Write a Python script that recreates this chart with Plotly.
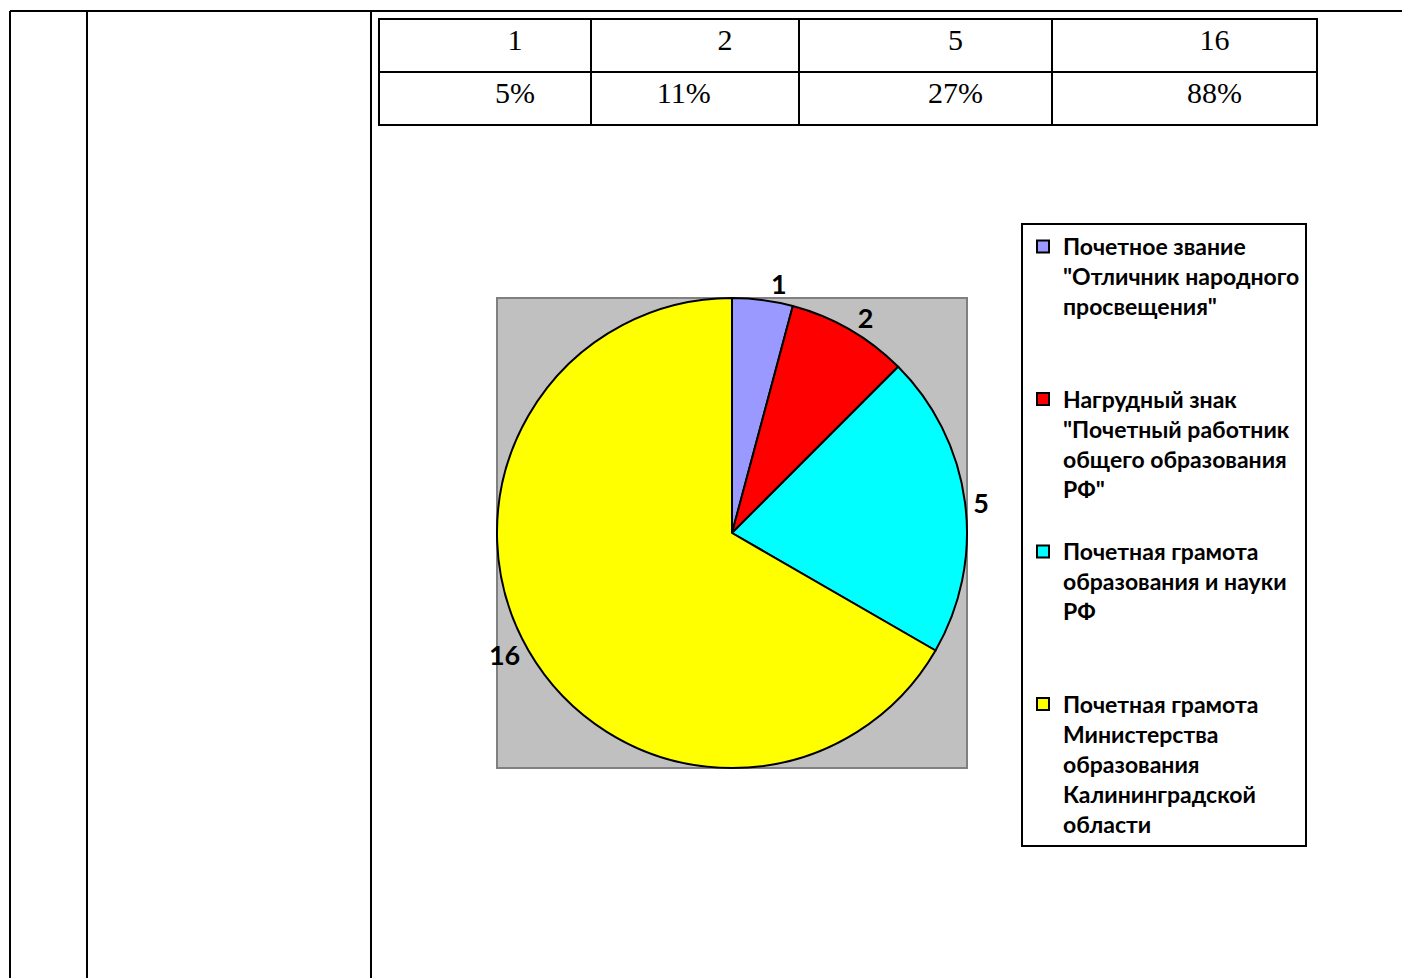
import plotly.graph_objects as go

W, H = 1402, 978

# ---- data ----
categories = [
    'Почетное звание<br>"Отличник народного<br>просвещения"',
    'Нагрудный знак<br>"Почетный работник<br>общего образования<br>РФ"',
    'Почетная грамота<br>образования и науки<br>РФ',
    'Почетная грамота<br>Министерства<br>образования<br>Калининградской<br>области',
]
counts = [1, 2, 5, 16]
percent_labels = ["5%", "11%", "27%", "88%"]
colors = ["#9999FF", "#FF0000", "#00FFFF", "#FFFF00"]

# styling helpers (not data)
legend_pad = [2, 1, 2, 0]
legend_labels = [c + "<br>\u00a0" * p for c, p in zip(categories, legend_pad)]
head_indent = [8, 8, 8, 8]
cell_indent = [8, -3, 8, 8]


def indent(txt, n):
    return "\u00a0" * n + txt if n >= 0 else txt + "\u00a0" * (-n)


def px(x):
    return x / W


def py(y):
    return 1 - y / H


fig = go.Figure()

# top table
fig.add_trace(go.Table(
    domain=dict(x=[px(379), px(1317)], y=[py(127), py(19)]),
    columnwidth=[212, 208, 253, 265],
    header=dict(values=[indent(str(c), n) for c, n in zip(counts, head_indent)], height=53,
                fill_color="white", line=dict(color="black", width=2),
                font=dict(family="Liberation Serif", size=30, color="black"),
                align="center"),
    cells=dict(values=[[indent(p, n)] for p, n in zip(percent_labels, cell_indent)], height=53,
               fill_color="white", line=dict(color="black", width=2),
               font=dict(family="Liberation Serif", size=30, color="black"),
               align="center"),
))

# pie
fig.add_trace(go.Pie(
    labels=legend_labels,
    values=counts,
    sort=False,
    direction="clockwise",
    rotation=0,
    marker=dict(colors=colors, line=dict(color="black", width=2)),
    textinfo="value",
    textposition="outside",
    textfont=dict(family="Lato, 'Open Sans', sans-serif", size=27, color="black", weight="bold"),
    domain=dict(x=[px(497), px(967)], y=[py(768), py(298)]),
    hoverinfo="label+value",
))

shapes = [
    # page table lines
    dict(type="line", xref="paper", yref="paper", x0=px(10), x1=1, y0=py(11), y1=py(11),
         line=dict(color="black", width=2)),
    dict(type="line", xref="paper", yref="paper", x0=px(10), x1=px(10), y0=py(11), y1=0,
         line=dict(color="black", width=2)),
    dict(type="line", xref="paper", yref="paper", x0=px(87), x1=px(87), y0=py(11), y1=0,
         line=dict(color="black", width=2)),
    dict(type="line", xref="paper", yref="paper", x0=px(371), x1=px(371), y0=py(11), y1=0,
         line=dict(color="black", width=2)),
    # gray plot area
    dict(type="rect", xref="paper", yref="paper", x0=px(497), x1=px(967), y0=py(768), y1=py(298),
         fillcolor="#C0C0C0", line=dict(color="#808080", width=2), layer="below"),
]

fig.update_layout(
    width=W, height=H,
    margin=dict(l=0, r=0, t=0, b=0),
    paper_bgcolor="white",
    plot_bgcolor="white",
    shapes=shapes,
    showlegend=True,
    legend=dict(
        x=px(1021), y=py(223), xanchor="left", yanchor="top",
        bordercolor="black", borderwidth=2, bgcolor="white",
        font=dict(family="Lato, 'Open Sans', sans-serif", size=23, color="black", weight="bold"),
        valign="top", traceorder="normal",
    ),
)

fig.write_html("out.html", config={"displayModeBar": False},
               post_script="document.body.style.margin='0';")
